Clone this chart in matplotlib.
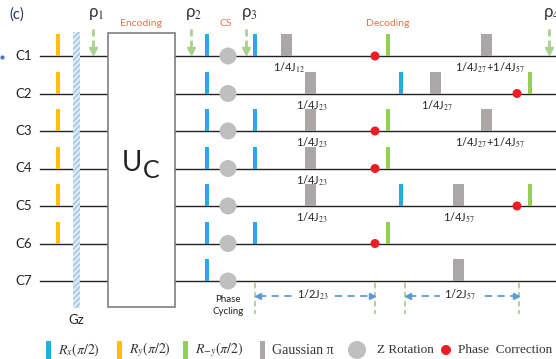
import matplotlib.pyplot as plt
from matplotlib.patches import Rectangle, Circle

plt.rcParams['font.family'] = ['Lato', 'DejaVu Sans']
plt.rcParams['mathtext.fontset'] = 'stix'

# qubit channels (top to bottom)
channels = ['C1', 'C2', 'C3', 'C4', 'C5', 'C6', 'C7']

# pulse sequence: (channel, time position along the wire)
ry_pulses = [('C1', 58), ('C2', 58), ('C3', 58), ('C4', 58), ('C5', 58), ('C6', 58)]
rx_pulses = [('C1', 207), ('C2', 207), ('C3', 207), ('C4', 207), ('C5', 207), ('C6', 207), ('C7', 207),
             ('C1', 255), ('C3', 255), ('C4', 255), ('C6', 255),
             ('C2', 401), ('C5', 401)]
rmy_pulses = [('C1', 388), ('C3', 388), ('C4', 388), ('C6', 388), ('C2', 530), ('C5', 530)]
z_rotations = [('C1', 228), ('C2', 228), ('C3', 228), ('C4', 228), ('C5', 228), ('C6', 228), ('C7', 228)]
phase_corr = [('C1', 375), ('C3', 375), ('C4', 375), ('C6', 375), ('C2', 517), ('C5', 517)]
# gaussian pi pulses with their delay labels
gauss_pulses = [('C1', 286, r'1/4J$_{12}$', 289),
                ('C2', 310, r'1/4J$_{23}$', 312),
                ('C3', 310, r'1/4J$_{23}$', 312),
                ('C4', 310, r'1/4J$_{23}$', 312),
                ('C5', 310, r'1/4J$_{23}$', 312),
                ('C2', 435, r'1/4J$_{27}$', 437),
                ('C1', 486, r'1/4J$_{27}$+1/4J$_{57}$', 490),
                ('C3', 486, r'1/4J$_{27}$+1/4J$_{57}$', 490),
                ('C5', 458, r'1/4J$_{57}$', 459),
                ('C7', 458, None, 0)]
# density matrix markers
rho_labels = [r'ρ$_1$', r'ρ$_2$', r'ρ$_3$', r'ρ$_4$']
rho_times = [93, 191, 246, 549]
# free evolution intervals
delays = [(255, 375, r'1/2J$_{23}$'), (405, 519, r'1/2J$_{57}$')]

BLUE = '#29abe2'
YELLOW = '#ffc000'
GREEN = '#92d050'
GREY = '#aba7a7'
CIRC = '#bfbfbf'
RED = '#ee1c25'
ORANGE = '#e2774a'
LGREEN = '#a9d18e'
DBLUE = '#5b9bd5'

fig = plt.figure(figsize=(5.56, 3.59), dpi=100)
ax = fig.add_axes([0, 0, 1, 1])
ax.set_xlim(0, 556)
ax.set_ylim(359, 0)
ax.axis('off')

wire_y = {c: 56 + 37.5 * i for i, c in enumerate(channels)}

# wires and channel labels
for c, y in wire_y.items():
    ax.plot([40, 108], [y, y], color='#222222', lw=1, zorder=1)
    ax.plot([175, 556], [y, y], color='#222222', lw=1, zorder=1)
    ax.text(24, y, c, ha='center', va='center', fontsize=9.5, color='#222222')

ax.text(17, 15, '(c)', ha='center', va='center', fontsize=10.5, color='#203864')
ax.plot([2], [57], 'o', color='#4472c4', ms=2)

# gradient pulse
ax.add_patch(Rectangle((73, 32), 7, 276, facecolor='#ddebf7', edgecolor='#9dc3e6',
                       hatch='//////', lw=0, zorder=2))
ax.text(76, 320, 'Gz', ha='center', va='center', fontsize=9.5, color='#222222')

# encoding box
ax.add_patch(Rectangle((108, 33), 67, 274, facecolor='white', edgecolor='#7f7f7f',
                       lw=1.2, zorder=2))
ax.text(142, 163, 'U', ha='right', va='center', fontsize=20, color='#222222', zorder=3)
ax.text(143, 170, 'C', ha='left', va='center', fontsize=18, color='#222222', zorder=3)
ax.text(141, 24, 'Encoding', ha='center', va='center', fontsize=7.5, color=ORANGE)
ax.text(226, 24, 'CS', ha='center', va='center', fontsize=7.5, color=ORANGE)
ax.text(388, 24, 'Decoding', ha='center', va='center', fontsize=7.5, color=ORANGE)


def bar(x, y, w, h, color):
    ax.add_patch(Rectangle((x - w / 2, y - h), w, h, facecolor=color, lw=0, zorder=3))


for c, t in ry_pulses:
    bar(t, wire_y[c], 4, 22, YELLOW)
for c, t in rx_pulses:
    bar(t, wire_y[c], 4.5, 22, BLUE)
for c, t in rmy_pulses:
    bar(t, wire_y[c], 4.5, 22, GREEN)
for c, t, lab, lx in gauss_pulses:
    bar(t, wire_y[c], 11, 22, GREY)
    if lab:
        ax.text(lx, wire_y[c] + 12, lab, ha='center', va='center', fontsize=8, color='#222222')
for c, t in z_rotations:
    ax.add_patch(Circle((t, wire_y[c]), 8.5, facecolor=CIRC, lw=0, zorder=3))
for c, t in phase_corr:
    ax.add_patch(Circle((t, wire_y[c]), 4.5, facecolor=RED, lw=0, zorder=4))

# rho markers
for lab, t in zip(rho_labels, rho_times):
    ax.plot([t, t], [29, 47], color=LGREEN, lw=2, ls=(0, (2.5, 1.5)), zorder=2)
    ax.plot([t], [51], marker='v', color=LGREEN, ms=6, zorder=2)
    ax.text(t + 3, 14, lab, ha='center', va='center', fontsize=12, color='#333333')

ax.text(228, 299, 'Phase', ha='center', va='center', fontsize=7, color='#222222')
ax.text(228, 312, 'Cycling', ha='center', va='center', fontsize=7, color='#222222')

# delay intervals
for x0, x1, lab in delays:
    for x in (x0, x1):
        ax.plot([x, x], [283, 314], color=LGREEN, lw=1.3, ls=(0, (3, 2)), zorder=1)
    ax.plot([x0 + 4, x1 - 4], [296, 296], color=DBLUE, lw=1.3, ls=(0, (4, 3)), zorder=1)
    ax.plot([x0 + 3], [296], marker='<', color=DBLUE, ms=4, zorder=2)
    ax.plot([x1 - 3], [296], marker='>', color=DBLUE, ms=4, zorder=2)
    ax.text((x0 + x1) / 2 - 2, 295, lab, ha='center', va='center', fontsize=8, color='#222222',
            bbox=dict(facecolor='white', edgecolor='none', pad=2.5), zorder=3)

# legend
ly = 350
leg_items = [(48, BLUE, r'$R_x(\pi/2)$'), (119, YELLOW, r'$R_y(\pi/2)$'),
             (185, GREEN, r'$R_{-y}(\pi/2)$'), (262, GREY, 'Gaussian π')]
for x, col, lab in leg_items:
    ax.add_patch(Rectangle((x - 2.5, ly - 9), 5, 18, facecolor=col, lw=0))
    ax.text(x + 10, ly, lab, ha='left', va='center', fontsize=10, color='#333333',
            family=['Liberation Serif', 'DejaVu Serif'])
ax.add_patch(Circle((357, ly), 9, facecolor=CIRC, lw=0))
ax.text(377, ly, 'Z Rotation', ha='left', va='center', fontsize=9.5, color='#333333',
        family=['Liberation Serif', 'DejaVu Serif'])
ax.add_patch(Circle((446, ly), 5, facecolor=RED, lw=0))
ax.text(458, ly, 'Phase  Correction', ha='left', va='center', fontsize=9.5, color='#333333',
        family=['Liberation Serif', 'DejaVu Serif'])

fig.savefig('out.png', dpi=100)
